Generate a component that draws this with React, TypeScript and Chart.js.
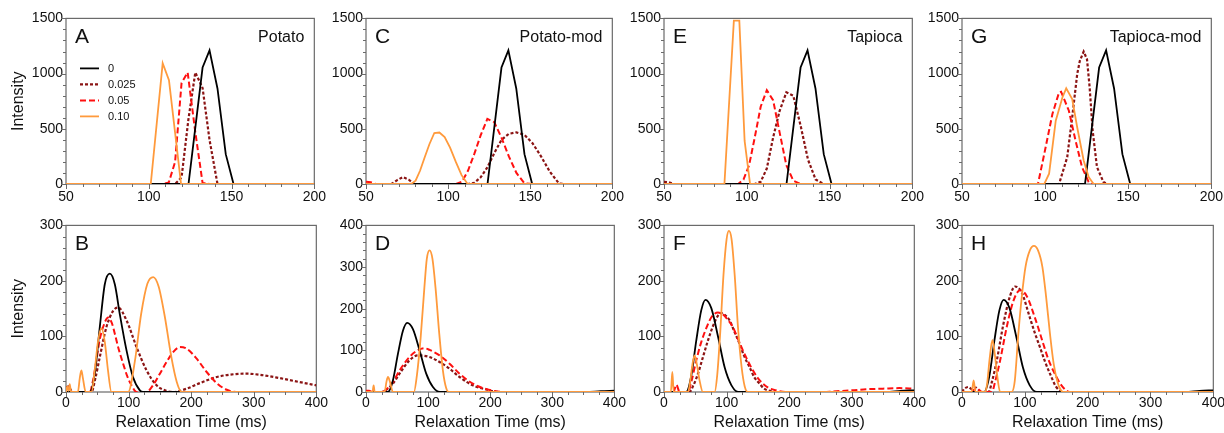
import React, { useEffect, useRef } from 'react';
import { Chart, registerables } from 'chart.js';

Chart.register(...registerables);

type Pt = [number, number];

const FONT = 'Arial, "Liberation Sans", Helvetica, sans-serif';

// ---------- series meta ----------
const SERIES_LABELS = ['0', '0.025', '0.05', '0.10'];
const SERIES_COLORS = ['#000000', '#8B1414', '#FF1010', '#FF9A3C'];
const SERIES_DASH = [[], [3, 2], [6, 3], []];
const SERIES_WIDTH = [1.8, 2.2, 2, 1.8];
const SERIES_ORDER = [1, 3, 2, 0];

// ---------- axis settings ----------
const TOP_X_RANGE = [50, 200];
const TOP_X_STEPS = [50, 10]; // major, minor
const TOP_Y_STEPS = [500, 100];
const BOTTOM_X_RANGE = [0, 400];
const BOTTOM_X_STEPS = [100, 25];
const BOTTOM_Y_STEPS = [100, 20];
const Y_TITLE = 'Intensity';
const X_TITLE = 'Relaxation Time (ms)';

// ---------- top row data (T2 50-200 ms) ----------
const CONTROL_TOP: Pt[] = [[50, 0], [124, 0], [132.5, 1055], [136.7, 1210], [141.5, 865], [146.5, 270], [151.2, 0], [200, 0]];

const A_025: Pt[] = [[50, 0], [115.9, 0], [119.8, 60], [123.9, 580], [128.1, 1010], [132.5, 870], [136.7, 400], [141.5, 0], [200, 0]];
const A_05: Pt[] = [[50, 0], [108.4, 0], [112.1, 15], [115.9, 200], [119.8, 915], [123.5, 1010], [128.1, 470], [132.5, 10], [136.7, 0], [200, 0]];
const A_10: Pt[] = [[50, 0], [101.2, 0], [108.4, 1094], [112.2, 940], [119.5, 0], [200, 0]];

const C_025: Pt[] = [[50, 0], [65.5, 0], [69, 35], [72.5, 63], [76, 40], [79.5, 0], [112.1, 0], [115.9, 10], [119.8, 60], [123.9, 150], [128.1, 280], [132.5, 400], [137, 455], [141.6, 468], [146.5, 445], [151.4, 370], [156.6, 250], [162, 110], [167.5, 5], [170, 0], [200, 0]];
const C_05: Pt[] = [[50, 20], [53, 15], [56, 0], [104.8, 0], [108.4, 20], [112.1, 120], [115.9, 270], [119.8, 440], [123.9, 590], [128.1, 560], [132.5, 420], [137, 250], [141.6, 100], [146.5, 5], [151.4, 0], [200, 0]];
const C_10: Pt[] = [[50, 0], [77.5, 0], [80.2, 30], [82.9, 120], [85.7, 240], [88.6, 360], [91.6, 462], [94.7, 466], [97.9, 425], [101.2, 330], [104.7, 200], [108.2, 80], [111.9, 0], [200, 0]];

const E_025: Pt[] = [[50, 20], [53, 15], [56, 0], [104.8, 0], [108.4, 20], [112.1, 140], [115.9, 420], [119.8, 660], [123.9, 830], [128.1, 800], [132.5, 530], [137, 220], [141.6, 40], [146.5, 0], [200, 0]];
const E_05: Pt[] = [[50, 0], [94.8, 0], [98, 40], [101.4, 170], [104.8, 420], [108.4, 700], [112.1, 850], [115.9, 760], [119.8, 470], [123.9, 170], [128.1, 30], [132.5, 0], [200, 0]];
const E_10: Pt[] = [[50, 0], [86.5, 0], [92.2, 1480], [95.5, 1480], [98.7, 390], [102, 0], [200, 0]];

const G_025: Pt[] = [[50, 0], [108.4, 0], [113.3, 243], [116.3, 604], [119.3, 995], [120.9, 1115], [123.2, 1200], [125.2, 1130], [126.8, 875], [128.6, 484], [131.2, 153], [135.1, 18], [137.5, 0], [200, 0]];
const G_05: Pt[] = [[50, 0], [95.7, 0], [99.5, 273], [104.4, 634], [108.4, 830], [109.6, 836], [114.3, 664], [118.3, 394], [122.2, 153], [126.2, 18], [128, 0], [200, 0]];
const G_10: Pt[] = [[50, 0], [99.5, 0], [102.4, 93], [106.4, 574], [110.4, 784], [112.7, 866], [116.3, 770], [119.3, 514], [123.2, 213], [126.2, 63], [129.2, 0], [200, 0]];

// ---------- bottom row data (T2 0-400 ms) ----------
const B_0: Pt[] = [[0, 0], [38, 0], [46, 33], [54, 117], [62, 194], [70, 213], [78, 194], [86, 140], [96.7, 75], [107, 27], [118, 3], [123, 0], [400, 0]];
const B_025: Pt[] = [[0, 8], [4, 10], [8, 3], [12, 0], [40.6, 0], [47, 25], [54, 63], [64.6, 117], [75.3, 146], [83.3, 152], [96.7, 129], [112.7, 81], [128.7, 39], [144.7, 12], [160.7, 2], [171.4, 0], [192.8, 6], [214, 16], [241, 27], [267.6, 32], [289, 33], [310, 31], [337, 26], [363.7, 20], [400, 12]];
const B_05: Pt[] = [[0, 6], [4, 9], [8, 2], [12, 0], [38, 0], [43, 20], [48.6, 57], [54, 95], [59.3, 117], [67.3, 134], [73, 125], [78, 105], [84, 78], [91.3, 51], [98, 28], [104.7, 12], [112.7, 0], [128.7, 0], [139, 12], [150, 33], [160.7, 54], [171.4, 72], [182, 81], [192.8, 78], [208.8, 60], [224.8, 36], [240.9, 16], [256.9, 4], [275.6, 0], [400, 0]];
const B_10: Pt[] = [[0, 0], [2, 10], [4, 2], [6, 14], [8, 0], [19, 0], [22, 25], [24.6, 39], [27, 25], [31.5, 0], [40.6, 0], [46, 40], [51, 90], [56.6, 115], [62, 90], [67, 40], [72.6, 0], [99.3, 0], [110, 55], [120, 140], [130, 195], [139.4, 207], [148, 190], [158, 135], [168, 65], [177, 18], [184.8, 0], [400, 0]];

const CONTROL_BOTTOM: Pt[] = [[0, 0], [35.5, 0], [43.4, 28], [51.5, 92], [59.5, 147], [66.3, 166], [75.6, 151], [86.3, 100], [97, 44], [107.8, 12], [119, 0], [355, 0], [378, 2], [400, 3]];

const D_025: Pt[] = [[0, 0], [25, 0], [30, 3], [43.4, 20], [54, 44], [70, 76], [83.6, 88], [102.4, 84], [118.5, 72], [134.6, 56], [150.7, 36], [172, 16], [193.6, 6], [215, 0], [400, 0]];
const D_05: Pt[] = [[0, 3], [5, 3], [10, 0], [25, 0], [30, 3], [43.4, 24], [54.2, 52], [70, 84], [82, 99], [94.4, 105], [102.4, 101], [118.5, 88], [134.6, 68], [150.7, 44], [172, 20], [193.6, 7], [225.7, 0], [400, 0]];
const D_10: Pt[] = [[0, 0], [10.5, 0], [12.3, 16], [14, 0], [30, 0], [33, 25], [35.4, 36], [38.5, 25], [43.4, 0], [77.2, 0], [82, 40], [88, 130], [94, 250], [98, 320], [102.4, 340], [107, 320], [112, 250], [118, 140], [124, 50], [129, 10], [133, 0], [400, 0]];

const F_025: Pt[] = [[0, 0], [40.4, 0], [47, 12], [54.3, 33], [62, 62], [70.3, 93], [78, 118], [86, 137], [91.5, 142], [97, 139], [104.8, 129], [112, 110], [120.7, 87], [128, 65], [136.7, 45], [144, 27], [152.6, 15], [160, 6], [168.6, 2], [179, 0], [400, 0]];
const F_05: Pt[] = [[0, 0], [15, 0], [19.7, 13], [25, 0], [38.3, 0], [44, 20], [51.6, 57], [59, 88], [67.6, 115], [76, 135], [86.2, 143], [94, 140], [102, 130], [110, 117], [118, 96], [126, 75], [134, 56], [142, 39], [150, 25], [158, 15], [168, 7], [179, 3], [195, 0], [250, 0], [270, 1], [300, 3], [323, 5], [350, 6], [376, 7], [400, 6]];
const F_10: Pt[] = [[0, 0], [11, 0], [13.3, 36], [15.5, 0], [38.3, 0], [42, 20], [45.5, 50], [48.9, 66], [52.5, 50], [57, 20], [62.2, 0], [80.9, 0], [85, 30], [90, 110], [95, 210], [100, 275], [103.7, 290], [108, 275], [113, 210], [118, 120], [124, 45], [129, 10], [134, 0], [400, 0]];

const H_025: Pt[] = [[0, 0], [4, 6], [10, 9], [16, 5], [22, 8], [28, 2], [35, 0], [42.2, 0], [48, 20], [55.4, 57], [66, 123], [76.5, 173], [84.4, 190], [95, 179], [108, 134], [116, 106], [124, 81], [132, 55], [140, 33], [150, 9], [161, 0], [400, 0]];
const H_05: Pt[] = [[0, 0], [15, 0], [20, 5], [23.7, 7], [28, 3], [32, 0], [47.5, 0], [53, 20], [60.7, 57], [71.2, 117], [81.8, 164], [92.3, 183], [102.9, 173], [116, 134], [129.3, 87], [137, 60], [145, 39], [158.3, 12], [171.5, 0], [400, 0]];
const H_10: Pt[] = [[0, 0], [15.5, 0], [18.5, 21], [21.5, 0], [37, 0], [40, 15], [44, 60], [48.5, 94], [52, 70], [56, 30], [60.7, 0], [79, 0], [84, 20], [89.7, 105], [95, 170], [101, 225], [108, 255], [114.5, 263], [121, 255], [128, 225], [134, 170], [140, 105], [146, 50], [152, 18], [157, 4], [161, 0], [400, 0]];

// ---------- panels ----------
interface PanelDef {
  letter: string;
  name?: string;
  row: number;
  col: number;
  series: Pt[][];
  yMax: number;
  legend?: boolean;
}

const PANELS: PanelDef[] = [
  { letter: 'A', name: 'Potato', row: 0, col: 0, series: [CONTROL_TOP, A_025, A_05, A_10], yMax: 1500, legend: true },
  { letter: 'C', name: 'Potato-mod', row: 0, col: 1, series: [CONTROL_TOP, C_025, C_05, C_10], yMax: 1500 },
  { letter: 'E', name: 'Tapioca', row: 0, col: 2, series: [CONTROL_TOP, E_025, E_05, E_10], yMax: 1500 },
  { letter: 'G', name: 'Tapioca-mod', row: 0, col: 3, series: [CONTROL_TOP, G_025, G_05, G_10], yMax: 1500 },
  { letter: 'B', row: 1, col: 0, series: [B_0, B_025, B_05, B_10], yMax: 300 },
  { letter: 'D', row: 1, col: 1, series: [CONTROL_BOTTOM, D_025, D_05, D_10], yMax: 400 },
  { letter: 'F', row: 1, col: 2, series: [CONTROL_BOTTOM, F_025, F_05, F_10], yMax: 300 },
  { letter: 'H', row: 1, col: 3, series: [CONTROL_BOTTOM, H_025, H_05, H_10], yMax: 300 },
];

// layout (page pixels of plot areas)
const PLOT_LEFT = [66, 366, 664, 962];
const PLOT_RIGHT = [317, 615, 915, 1214];
const ROW_TOP = [17, 224];
const ROW_BOTTOM = [184, 392];
const PAD_TOP = 10;
const PAD_RIGHT = 14;

function isMultiple(v: number, step: number) {
  return Math.abs(v / step - Math.round(v / step)) < 1e-6;
}

function Panel({ def }: { def: PanelDef }) {
  const ref = useRef<HTMLCanvasElement>(null);
  const top = def.row === 0;
  const yAxisW = def.col === 0 ? 66 : 50;
  const xAxisH = top ? 24 : 40;
  const plotW = PLOT_RIGHT[def.col] - PLOT_LEFT[def.col];
  const plotH = ROW_BOTTOM[def.row] - ROW_TOP[def.row];
  const cw = yAxisW + plotW + PAD_RIGHT;
  const ch = PAD_TOP + plotH + xAxisH;
  const cl = PLOT_LEFT[def.col] - yAxisW;
  const ct = ROW_TOP[def.row] - PAD_TOP;

  useEffect(() => {
    const xRange = top ? TOP_X_RANGE : BOTTOM_X_RANGE;
    const xSteps = top ? TOP_X_STEPS : BOTTOM_X_STEPS;
    const ySteps = top ? TOP_Y_STEPS : BOTTOM_Y_STEPS;

    const decor = {
      id: 'decor',
      beforeDatasetsDraw(chart: any) {
        const { ctx, chartArea: a, scales } = chart;
        const xs = scales.x;
        const ys = scales.y;
        ctx.save();
        ctx.strokeStyle = '#6a6a6a';
        ctx.lineWidth = 1.2;
        ctx.strokeRect(a.left, a.top, a.right - a.left, a.bottom - a.top);
        ctx.beginPath();
        for (let v = xRange[0]; v <= xRange[1] + 1e-9; v += xSteps[1]) {
          const px = Math.round(xs.getPixelForValue(v)) + 0.5;
          const len = isMultiple(v, xSteps[0]) ? 5 : 3;
          ctx.moveTo(px, a.bottom);
          ctx.lineTo(px, a.bottom + len);
        }
        for (let v = 0; v <= def.yMax + 1e-9; v += ySteps[1]) {
          const py = Math.round(ys.getPixelForValue(v)) + 0.5;
          const len = isMultiple(v, ySteps[0]) ? 5 : 3;
          ctx.moveTo(a.left, py);
          ctx.lineTo(a.left - len, py);
        }
        ctx.lineWidth = 1;
        ctx.stroke();
        ctx.restore();
      },
      afterDraw(chart: any) {
        const { ctx, chartArea: a } = chart;
        ctx.save();
        ctx.fillStyle = '#111';
        ctx.textBaseline = 'alphabetic';
        ctx.font = `21px ${FONT}`;
        ctx.textAlign = 'left';
        ctx.fillText(def.letter, a.left + 9, a.top + 24.5);
        if (def.name) {
          ctx.font = `16px ${FONT}`;
          ctx.textAlign = 'right';
          ctx.fillText(def.name, a.right - 10, a.top + 23.5);
        }
        if (def.legend) {
          ctx.font = `11px ${FONT}`;
          ctx.textAlign = 'left';
          ctx.textBaseline = 'middle';
          for (let i = 0; i < SERIES_LABELS.length; i++) {
            const y = a.top + 50 + i * 16;
            ctx.beginPath();
            ctx.setLineDash(SERIES_DASH[i]);
            ctx.strokeStyle = SERIES_COLORS[i];
            ctx.lineWidth = SERIES_WIDTH[i];
            ctx.moveTo(a.left + 14, y);
            ctx.lineTo(a.left + 33, y);
            ctx.stroke();
            ctx.setLineDash([]);
            ctx.fillStyle = '#111';
            ctx.fillText(SERIES_LABELS[i], a.left + 42, y + 0.5);
          }
        }
        ctx.restore();
      },
    };

    const chart = new Chart(ref.current!, {
      type: 'line',
      data: {
        datasets: def.series.map((s, i) => ({
          label: SERIES_LABELS[i],
          data: s.map(([x, y]) => ({ x, y })),
          borderColor: SERIES_COLORS[i],
          backgroundColor: SERIES_COLORS[i],
          borderWidth: SERIES_WIDTH[i],
          borderDash: SERIES_DASH[i],
          pointRadius: 0,
          fill: false,
          order: SERIES_ORDER[i],
          tension: top ? 0 : 0.4,
          cubicInterpolationMode: top ? 'default' : 'monotone',
        })) as any,
      },
      options: {
        responsive: false,
        animation: false,
        events: [],
        layout: { padding: { top: PAD_TOP, right: PAD_RIGHT, left: 0, bottom: 0 } },
        plugins: { legend: { display: false }, tooltip: { enabled: false } },
        scales: {
          x: {
            type: 'linear',
            min: xRange[0],
            max: xRange[1],
            grid: { display: false, drawTicks: false },
            border: { display: false },
            ticks: {
              stepSize: xSteps[0],
              autoSkip: false,
              maxRotation: 0,
              padding: top ? 5 : 3,
              color: '#111',
              font: { family: FONT, size: 14 },
              callback: (v: any) => String(v),
            },
            title: {
              display: !top,
              text: X_TITLE,
              color: '#111',
              font: { family: FONT, size: 16 },
              padding: { top: 0, bottom: 0 },
            },
            afterFit: (s: any) => { s.height = xAxisH; },
          },
          y: {
            type: 'linear',
            min: 0,
            max: def.yMax,
            grid: { display: false, drawTicks: false },
            border: { display: false },
            ticks: {
              stepSize: ySteps[0],
              autoSkip: false,
              padding: 3,
              color: '#111',
              font: { family: FONT, size: 14 },
              callback: (v: any) => String(v),
            },
            title: {
              display: def.col === 0,
              text: Y_TITLE,
              color: '#111',
              font: { family: FONT, size: 16 },
              padding: { top: 9, bottom: 0 },
            },
            afterFit: (s: any) => { s.width = yAxisW; },
          },
        },
      } as any,
      plugins: [decor],
    });
    return () => chart.destroy();
  }, []);

  return (
    <canvas
      ref={ref}
      width={cw}
      height={ch}
      style={{ position: 'absolute', left: cl, top: ct, width: cw, height: ch }}
    />
  );
}

export default function App() {
  return (
    <div style={{ position: 'fixed', left: 0, top: 0, width: 1224, height: 433, background: '#fff', overflow: 'hidden' }}>
      {PANELS.map((p) => (
        <Panel key={p.letter} def={p} />
      ))}
    </div>
  );
}
